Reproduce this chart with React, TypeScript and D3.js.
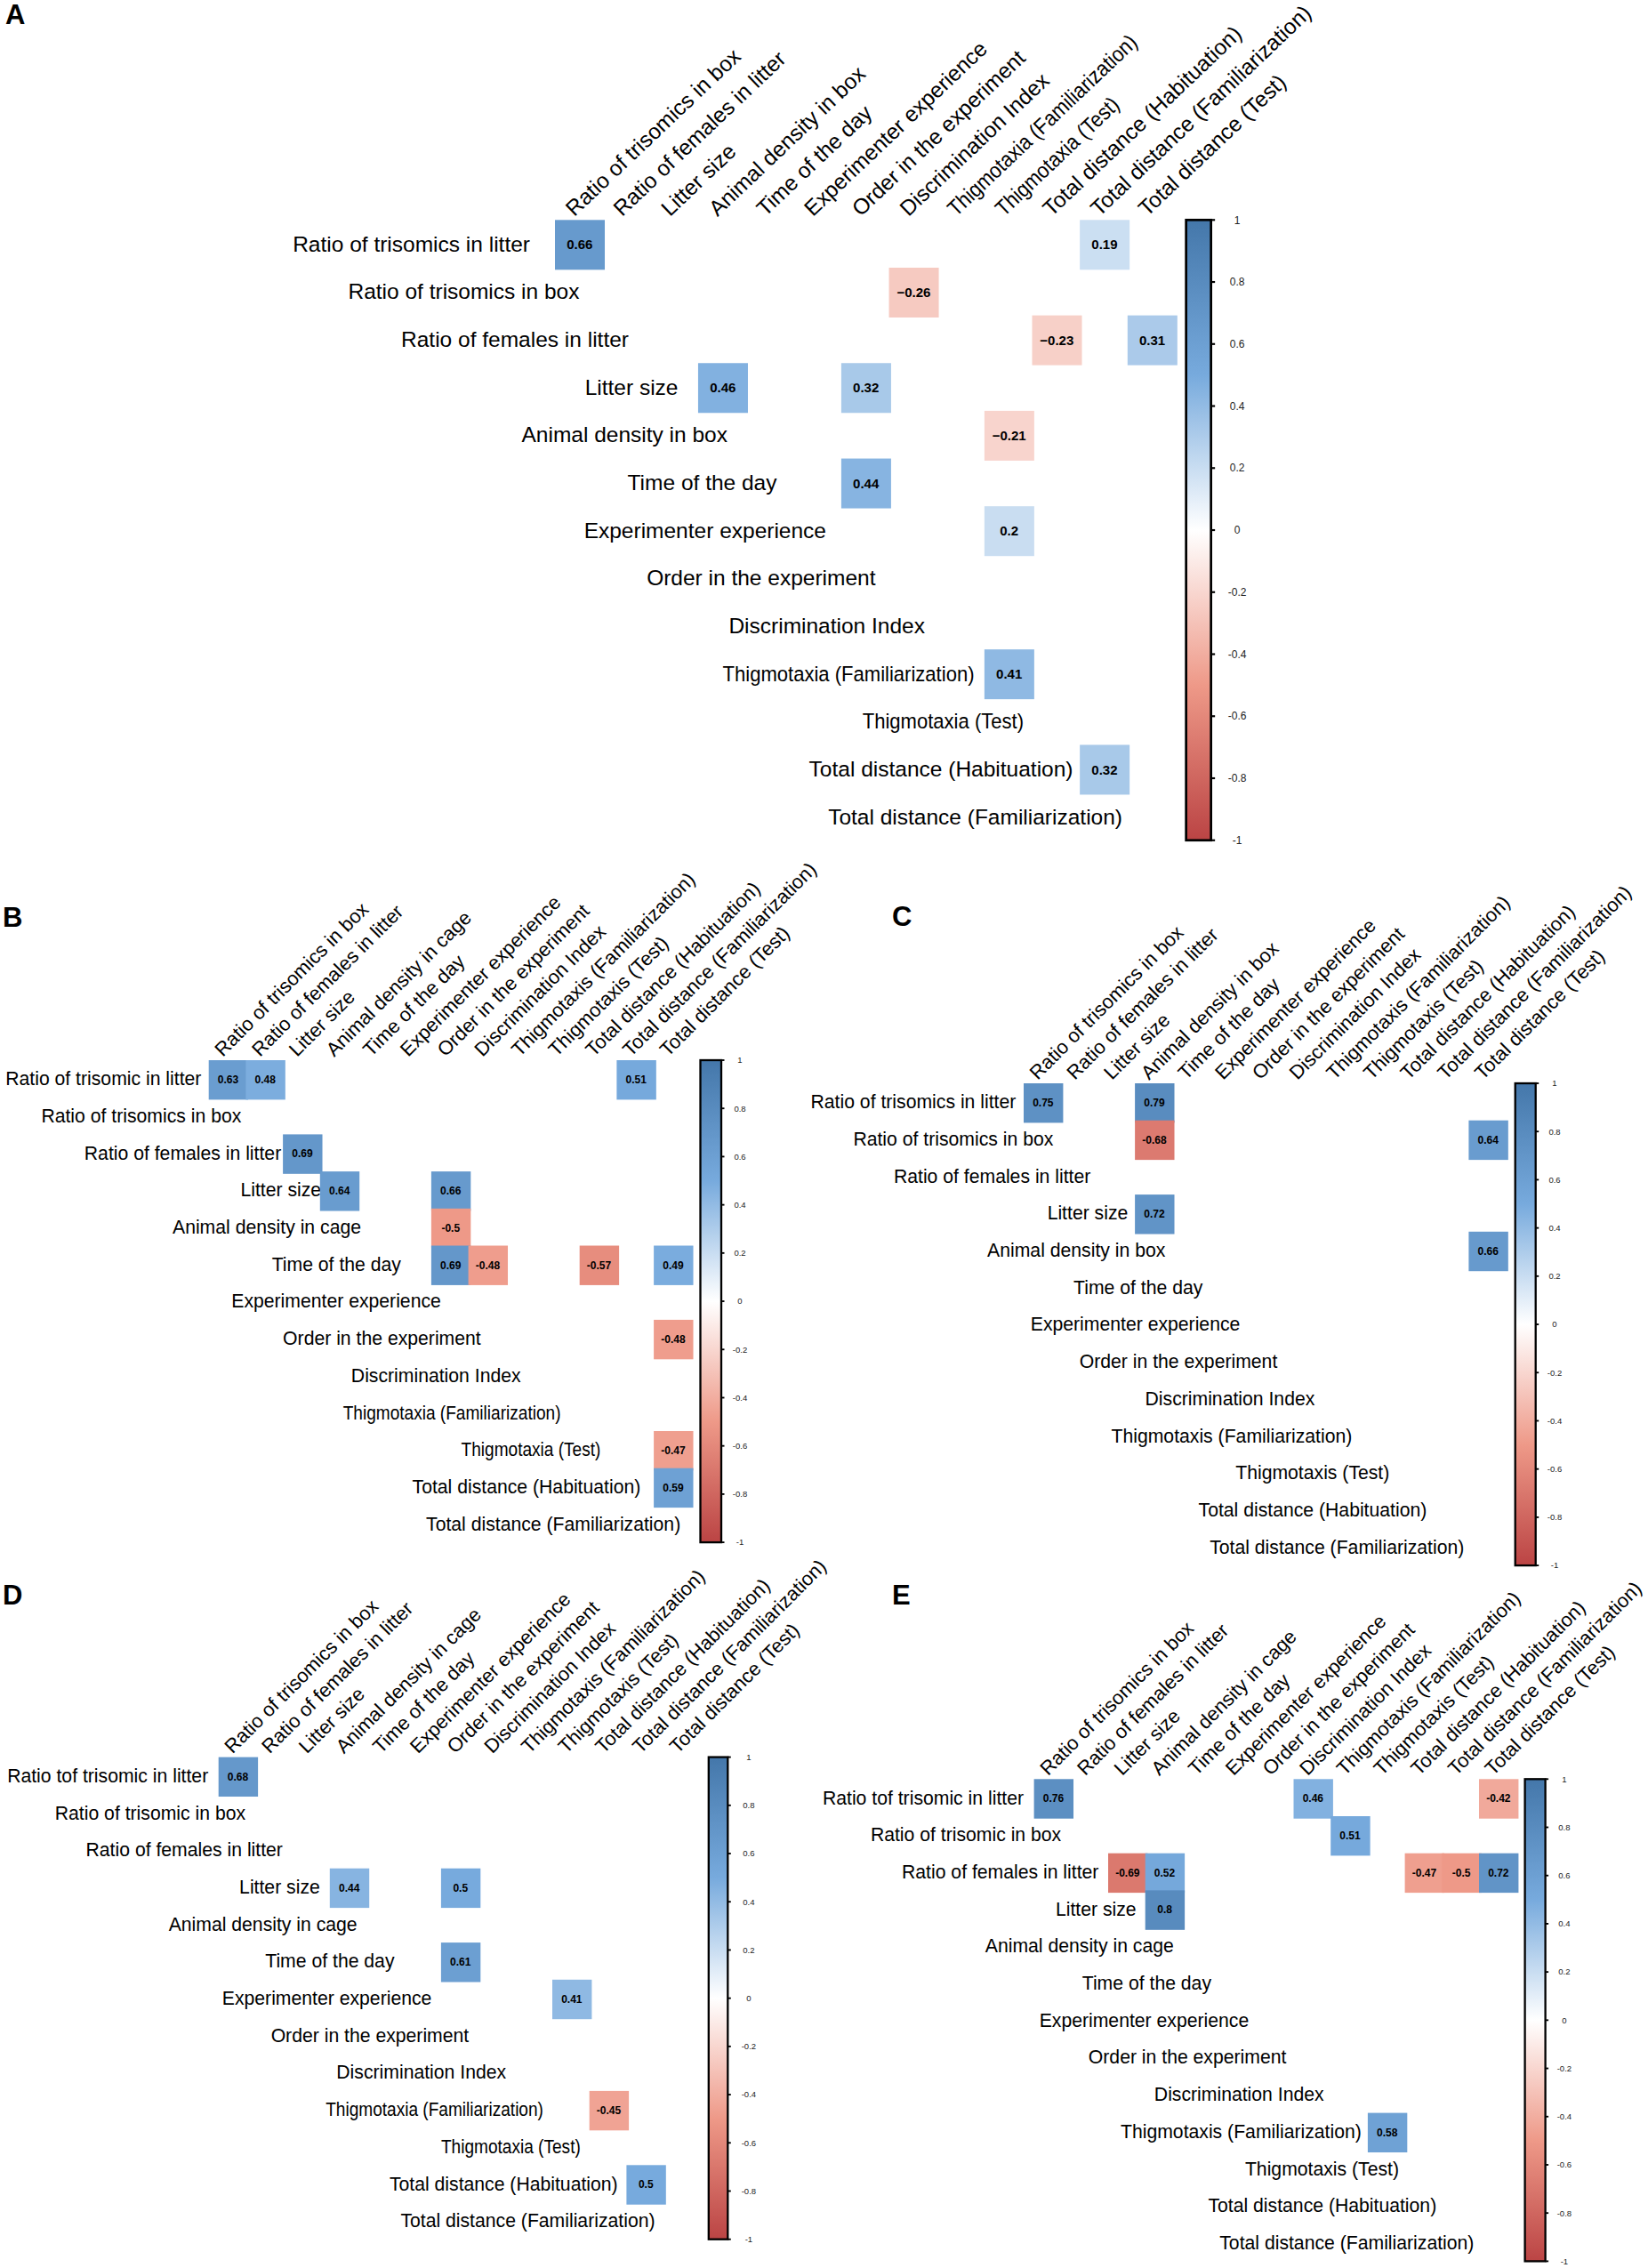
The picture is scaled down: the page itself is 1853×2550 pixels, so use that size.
import React from "react";
import * as d3 from "d3";

// ---- labels ----
const colsA = [
  "Ratio of trisomics in box",
  "Ratio of females in litter",
  "Litter size",
  "Animal density in box",
  "Time of the day",
  "Experimenter experience",
  "Order in the experiment",
  "Discrimination Index",
  "Thigmotaxia (Familiarization)",
  "Thigmotaxia (Test)",
  "Total distance (Habituation)",
  "Total distance (Familiarization)",
  "Total distance (Test)",
];
const rowsA = [
  "Ratio of trisomics in litter",
  "Ratio of trisomics in box",
  "Ratio of females in litter",
  "Litter size",
  "Animal density in box",
  "Time of the day",
  "Experimenter experience",
  "Order in the experiment",
  "Discrimination Index",
  "Thigmotaxia (Familiarization)",
  "Thigmotaxia (Test)",
  "Total distance (Habituation)",
  "Total distance (Familiarization)",
];

const colsB = [
  "Ratio of trisomics in box",
  "Ratio of females in litter",
  "Litter size",
  "Animal density in cage",
  "Time of the day",
  "Experimenter experience",
  "Order in the experiment",
  "Discrimination Index",
  "Thigmotaxis (Familiarization)",
  "Thigmotaxis (Test)",
  "Total distance (Habituation)",
  "Total distance (Familiarization)",
  "Total distance (Test)",
];
const rowsB = [
  "Ratio of trisomic in litter",
  "Ratio of trisomics in box",
  "Ratio of females in litter",
  "Litter size",
  "Animal density in cage",
  "Time of the day",
  "Experimenter experience",
  "Order in the experiment",
  "Discrimination Index",
  "Thigmotaxia (Familiarization)",
  "Thigmotaxia (Test)",
  "Total distance (Habituation)",
  "Total distance (Familiarization)",
];

const colsC = [
  "Ratio of trisomics in box",
  "Ratio of females in litter",
  "Litter size",
  "Animal density in box",
  "Time of the day",
  "Experimenter experience",
  "Order in the experiment",
  "Discrimination Index",
  "Thigmotaxis (Familiarization)",
  "Thigmotaxis (Test)",
  "Total distance (Habituation)",
  "Total distance (Familiarization)",
  "Total distance (Test)",
];
const rowsC = [
  "Ratio of trisomics in litter",
  "Ratio of trisomics in box",
  "Ratio of females in litter",
  "Litter size",
  "Animal density in box",
  "Time of the day",
  "Experimenter experience",
  "Order in the experiment",
  "Discrimination Index",
  "Thigmotaxis (Familiarization)",
  "Thigmotaxis (Test)",
  "Total distance (Habituation)",
  "Total distance (Familiarization)",
];

const colsD = [
  "Ratio of trisomics in box",
  "Ratio of females in litter",
  "Litter size",
  "Animal density in cage",
  "Time of the day",
  "Experimenter experience",
  "Order in the experiment",
  "Discrimination Index",
  "Thigmotaxis (Familiarization)",
  "Thigmotaxis (Test)",
  "Total distance (Habituation)",
  "Total distance (Familiarization)",
  "Total distance (Test)",
];
const rowsD = [
  "Ratio tof trisomic in litter",
  "Ratio of trisomic in box",
  "Ratio of females in litter",
  "Litter size",
  "Animal density in cage",
  "Time of the day",
  "Experimenter experience",
  "Order in the experiment",
  "Discrimination Index",
  "Thigmotaxia (Familiarization)",
  "Thigmotaxia (Test)",
  "Total distance (Habituation)",
  "Total distance (Familiarization)",
];

const colsE = colsB;
const rowsE = [
  "Ratio tof trisomic in litter",
  "Ratio of trisomic in box",
  "Ratio of females in litter",
  "Litter size",
  "Animal density in cage",
  "Time of the day",
  "Experimenter experience",
  "Order in the experiment",
  "Discrimination Index",
  "Thigmotaxis (Familiarization)",
  "Thigmotaxis (Test)",
  "Total distance (Habituation)",
  "Total distance (Familiarization)",
];

// ---- significant correlations: r = row index, c = column index ----
interface Cell {
  r: number;
  c: number;
  v: number;
}

const cellsA: Cell[] = [
  { r: 0, c: 0, v: 0.66 },
  { r: 0, c: 11, v: 0.19 },
  { r: 1, c: 7, v: -0.26 },
  { r: 2, c: 10, v: -0.23 },
  { r: 2, c: 12, v: 0.31 },
  { r: 3, c: 3, v: 0.46 },
  { r: 3, c: 6, v: 0.32 },
  { r: 4, c: 9, v: -0.21 },
  { r: 5, c: 6, v: 0.44 },
  { r: 6, c: 9, v: 0.2 },
  { r: 9, c: 9, v: 0.41 },
  { r: 11, c: 11, v: 0.32 },
];

const cellsB: Cell[] = [
  { r: 0, c: 0, v: 0.63 },
  { r: 0, c: 1, v: 0.48 },
  { r: 0, c: 11, v: 0.51 },
  { r: 2, c: 2, v: 0.69 },
  { r: 3, c: 3, v: 0.64 },
  { r: 3, c: 6, v: 0.66 },
  { r: 4, c: 6, v: -0.5 },
  { r: 5, c: 6, v: 0.69 },
  { r: 5, c: 7, v: -0.48 },
  { r: 5, c: 10, v: -0.57 },
  { r: 5, c: 12, v: 0.49 },
  { r: 7, c: 12, v: -0.48 },
  { r: 10, c: 12, v: -0.47 },
  { r: 11, c: 12, v: 0.59 },
];

const cellsC: Cell[] = [
  { r: 0, c: 0, v: 0.75 },
  { r: 0, c: 3, v: 0.79 },
  { r: 1, c: 3, v: -0.68 },
  { r: 1, c: 12, v: 0.64 },
  { r: 3, c: 3, v: 0.72 },
  { r: 4, c: 12, v: 0.66 },
];

const cellsD: Cell[] = [
  { r: 0, c: 0, v: 0.68 },
  { r: 3, c: 3, v: 0.44 },
  { r: 3, c: 6, v: 0.5 },
  { r: 5, c: 6, v: 0.61 },
  { r: 6, c: 9, v: 0.41 },
  { r: 9, c: 10, v: -0.45 },
  { r: 11, c: 11, v: 0.5 },
];

const cellsE: Cell[] = [
  { r: 0, c: 0, v: 0.76 },
  { r: 0, c: 7, v: 0.46 },
  { r: 0, c: 12, v: -0.42 },
  { r: 1, c: 8, v: 0.51 },
  { r: 2, c: 2, v: -0.69 },
  { r: 2, c: 3, v: 0.52 },
  { r: 2, c: 10, v: -0.47 },
  { r: 2, c: 11, v: -0.5 },
  { r: 2, c: 12, v: 0.72 },
  { r: 3, c: 3, v: 0.8 },
  { r: 9, c: 9, v: 0.58 },
];

const colorTicks = [1, 0.8, 0.6, 0.4, 0.2, 0, -0.2, -0.4, -0.6, -0.8, -1];
const paletteStops = [-1, -0.5, 0, 0.5, 1];
const paletteColors = ["#BB4444", "#EE9988", "#FFFFFF", "#77AADD", "#4477AA"];

const color = d3
  .scaleLinear<string>()
  .domain(paletteStops)
  .range(paletteColors)
  .interpolate(d3.interpolateRgb);

const FONT = "'Liberation Sans', Arial, Helvetica, sans-serif";

// the "Thigmotaxia" labels are set a little narrower in the figure
const squeeze = (label: string) => (label.startsWith("Thigmotaxia") ? 0.9 : 1);

interface Layout {
  letter: string;
  letterX: number;
  letterY: number;
  x0: number;
  y0: number;
  pitch: number;
  cellScale: number;
  rowFont: number;
  colFont: number;
  colAngle: number;
  cellFont: number;
  labelX0: number;
  labelPitch: number;
  colDx: number;
  cbGap: number;
  cbW: number;
  cbStroke: number;
  tickLen: number;
  tickDx: number;
  tickFont: number;
  minus: string;
}

const layoutA: Layout = {
  letter: "A", letterX: 6, letterY: 27,
  x0: 624, y0: 247.3, pitch: 53.65, cellScale: 1.044,
  rowFont: 24.5, colFont: 24.5, colAngle: 43.5, cellFont: 15,
  labelX0: 596, labelPitch: 55.5, colDx: -5,
  cbGap: 12.2, cbW: 28, cbStroke: 2.7, tickLen: 4.5, tickDx: 29.5, tickFont: 12,
  minus: "\u2212",
};
const layoutB: Layout = {
  letter: "B", letterX: 3, letterY: 1042,
  x0: 234.7, y0: 1192, pitch: 41.7, cellScale: 1.065,
  rowFont: 21.2, colFont: 22, colAngle: 45, cellFont: 12,
  labelX0: 226.4, labelPitch: 44.9, colDx: -5,
  cbGap: 10.7, cbW: 23.5, cbStroke: 2.3, tickLen: 3.5, tickDx: 21, tickFont: 9.5,
  minus: "-",
};
const layoutC: Layout = {
  letter: "C", letterX: 1003, letterY: 1041,
  x0: 1151, y0: 1218, pitch: 41.7, cellScale: 1.065,
  rowFont: 21.2, colFont: 22, colAngle: 45, cellFont: 12,
  labelX0: 1142.3, labelPitch: 42, colDx: -5,
  cbGap: 10.6, cbW: 23, cbStroke: 2.3, tickLen: 3.5, tickDx: 21.3, tickFont: 9.5,
  minus: "-",
};
const layoutD: Layout = {
  letter: "D", letterX: 3, letterY: 1804,
  x0: 245.7, y0: 1975.6, pitch: 41.7, cellScale: 1.065,
  rowFont: 21.2, colFont: 22, colAngle: 45, cellFont: 12,
  labelX0: 234.2, labelPitch: 41.86, colDx: -5,
  cbGap: 9, cbW: 21.5, cbStroke: 2.3, tickLen: 3.5, tickDx: 23.6, tickFont: 9.5,
  minus: "-",
};
const layoutE: Layout = {
  letter: "E", letterX: 1003, letterY: 1804,
  x0: 1162.6, y0: 2000.3, pitch: 41.7, cellScale: 1.065,
  rowFont: 21.2, colFont: 22, colAngle: 45, cellFont: 12,
  labelX0: 1151, labelPitch: 42.2, colDx: -5,
  cbGap: 9.9, cbW: 23, cbStroke: 2.3, tickLen: 3.5, tickDx: 21.3, tickFont: 9.5,
  minus: "-",
};

const fmt = (v: number, minus: string) => {
  const s = String(Math.abs(v));
  return v < 0 ? minus + s : s;
};

interface PanelProps {
  id: string;
  rows: string[];
  cols: string[];
  cells: Cell[];
  L: Layout;
}

const Panel: React.FC<PanelProps> = ({ id, rows, cols, cells, L }) => {
  const n = cols.length;
  const x = d3
    .scaleBand<number>()
    .domain(d3.range(n))
    .range([L.x0, L.x0 + n * L.pitch]);
  const y = d3
    .scaleBand<number>()
    .domain(d3.range(rows.length))
    .range([L.y0, L.y0 + rows.length * L.pitch]);
  const labelX = d3
    .scaleLinear()
    .domain([0, rows.length - 1])
    .range([L.labelX0, L.labelX0 + (rows.length - 1) * L.labelPitch]);

  const gridBottom = L.y0 + rows.length * L.pitch;
  const cbX = L.x0 + n * L.pitch + L.cbGap;
  const cbScale = d3.scaleLinear().domain([-1, 1]).range([gridBottom, L.y0]);
  const gradId = `grad-${id}`;
  const size = x.bandwidth() * L.cellScale;

  return (
    <g fontFamily={FONT}>
      <defs>
        <linearGradient id={gradId} x1="0" y1="1" x2="0" y2="0">
          {paletteStops.map((s, i) => (
            <stop key={i} offset={(s + 1) / 2} stopColor={paletteColors[i]} />
          ))}
        </linearGradient>
      </defs>

      <text x={L.letterX} y={L.letterY} fontSize={31} fontWeight="bold" fill="#000">
        {L.letter}
      </text>

      {/* column labels */}
      {cols.map((c, i) => (
        <text
          key={`c${i}`}
          transform={`translate(${x(i)! + x.bandwidth() / 2 + L.colDx},${L.y0 - 3}) rotate(${-L.colAngle}) scale(${squeeze(c)},1)`}
          fontSize={L.colFont}
          fill="#000"
        >
          {c}
        </text>
      ))}

      {/* row labels */}
      {rows.map((r, i) => (
        <text
          key={`r${i}`}
          transform={`translate(${labelX(i)},${y(i)! + y.bandwidth() / 2}) scale(${squeeze(r)},1)`}
          dy="0.35em"
          textAnchor="end"
          fontSize={L.rowFont}
          fill="#000"
        >
          {r}
        </text>
      ))}

      {/* cells */}
      {cells.map((d, i) => (
        <rect
          key={`k${i}`}
          x={x(d.c)}
          y={y(d.r)}
          width={size}
          height={size}
          fill={color(d.v)}
        />
      ))}
      {cells.map((d, i) => (
        <text
          key={`t${i}`}
          x={x(d.c)! + x.bandwidth() / 2 + 1}
          y={y(d.r)! + y.bandwidth() / 2 + 1}
          dy="0.35em"
          textAnchor="middle"
          fontSize={L.cellFont}
          fontWeight="bold"
          fill="#000"
        >
          {fmt(d.v, L.minus)}
        </text>
      ))}

      {/* colour bar */}
      <rect
        x={cbX}
        y={L.y0}
        width={L.cbW}
        height={gridBottom - L.y0}
        fill={`url(#${gradId})`}
        stroke="#000"
        strokeWidth={L.cbStroke}
      />
      {colorTicks.map((t) => (
        <g key={`tk${t}`}>
          <line
            x1={cbX + L.cbW}
            x2={cbX + L.cbW + L.tickLen}
            y1={cbScale(t)}
            y2={cbScale(t)}
            stroke="#000"
            strokeWidth={L.cbStroke * 0.8}
          />
          <text
            x={cbX + L.cbW + L.tickDx}
            y={cbScale(t)}
            dy="0.35em"
            textAnchor="middle"
            fontSize={L.tickFont}
            fill="#222"
          >
            {String(t)}
          </text>
        </g>
      ))}
    </g>
  );
};

const App: React.FC = () => {
  return (
    <svg
      width={1853}
      height={2550}
      style={{ position: "absolute", left: 0, top: 0, background: "#fff" }}
    >
      <rect width={1853} height={2550} fill="#fff" />
      <Panel id="A" rows={rowsA} cols={colsA} cells={cellsA} L={layoutA} />
      <Panel id="B" rows={rowsB} cols={colsB} cells={cellsB} L={layoutB} />
      <Panel id="C" rows={rowsC} cols={colsC} cells={cellsC} L={layoutC} />
      <Panel id="D" rows={rowsD} cols={colsD} cells={cellsD} L={layoutD} />
      <Panel id="E" rows={rowsE} cols={colsE} cells={cellsE} L={layoutE} />
    </svg>
  );
};

export default App;
